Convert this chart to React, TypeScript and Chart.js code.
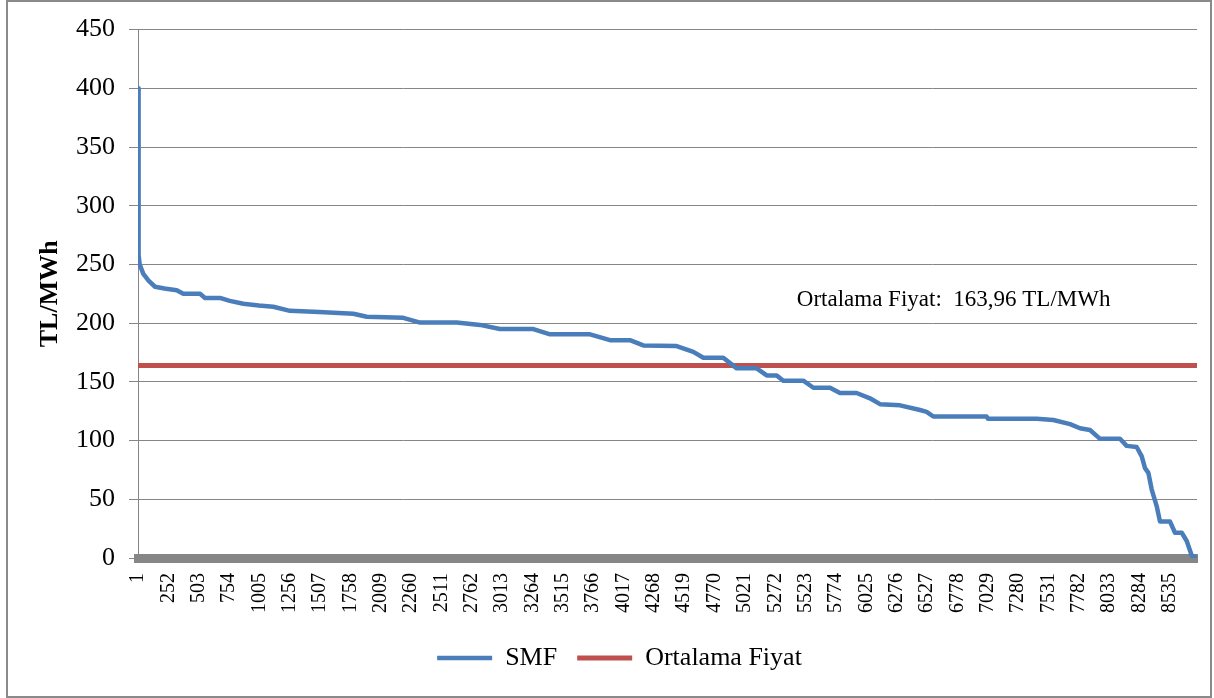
import React, { useEffect, useRef } from 'react';
import { Chart, registerables } from 'chart.js';

Chart.register(...registerables);

// ---- data ----
const HOURS = [
  1, 6, 15, 45, 90, 142, 220, 321, 376, 514, 555, 679, 760, 872, 1000, 1120, 1258, 1500, 1782, 1893,
  2195, 2334, 2637, 2830, 2995, 3271, 3409, 3740, 3905, 4070, 4180, 4456, 4594, 4677, 4842, 4953,
  5118, 5201, 5284, 5338, 5504, 5587, 5725, 5807, 5945, 6055, 6138, 6304, 6469, 6524, 6579, 7020,
  7031, 7434, 7572, 7710, 7792, 7875, 7958, 8123, 8178, 8261, 8303, 8330, 8358, 8385, 8427, 8454,
  8537, 8578, 8634, 8675, 8717, 8760,
];
const SMF_PRICES = [
  400, 258, 250, 242, 236, 231, 229.5, 228, 225, 225, 221.5, 221.5, 219, 216.5, 215, 214, 210.5, 209.5, 208, 205.5,
  204.5, 200.5, 200.5, 198.5, 195, 195, 190.5, 190.5, 185.5, 185.5, 181, 180.5, 175.5, 170.5, 170.5, 161.5,
  161.5, 155.5, 155.5, 151, 151, 145, 145, 140.5, 140.5, 136, 131, 130, 126, 124.5, 120.5, 120.5,
  118.5, 118.5, 117.5, 114, 110.5, 109, 101.5, 101.5, 95.5, 94.5, 86.5, 76.5, 72.5, 58.5, 44, 31,
  31, 21.5, 21.5, 14.5, 2, 0,
];
const AVERAGE_PRICE = 163.96;
const SERIES_NAMES = ['SMF', 'Ortalama Fiyat'];
const X_TICK_VALUES = [
  1, 252, 503, 754, 1005, 1256, 1507, 1758, 2009, 2260, 2511, 2762, 3013, 3264, 3515, 3766, 4017,
  4268, 4519, 4770, 5021, 5272, 5523, 5774, 6025, 6276, 6527, 6778, 7029, 7280, 7531, 7782, 8033,
  8284, 8535,
];
const Y_MIN = 0;
const Y_MAX = 450;
const Y_STEP = 50;
const Y_TITLE = 'TL/MWh';
const NOTE_TEXT = 'Ortalama Fiyat:  163,96 TL/MWh';
const NOTE_HOUR = 5450;
const NOTE_PRICE = 215;

const FONT = '"Liberation Serif", "Times New Roman", serif';
const BLUE = '#4A7EBB';
const RED = '#C0504D';
const GRID = '#868686';

const notePlugin = {
  id: 'noteText',
  afterDatasetsDraw(chart: any) {
    const { ctx, scales } = chart;
    const x = scales.x.getPixelForValue(NOTE_HOUR);
    const y = scales.y.getPixelForValue(NOTE_PRICE);
    ctx.save();
    ctx.font = `23px ${FONT}`;
    ctx.fillStyle = '#000';
    ctx.textAlign = 'left';
    ctx.textBaseline = 'alphabetic';
    ctx.fillText(NOTE_TEXT, x, y);
    ctx.restore();
  },
};

export default function App() {
  const canvasRef = useRef<HTMLCanvasElement | null>(null);

  useEffect(() => {
    const canvas = canvasRef.current;
    if (!canvas) return;
    const lastHour = HOURS[HOURS.length - 1];
    const chart = new Chart(canvas, {
      type: 'line',
      data: {
        datasets: [
          {
            label: SERIES_NAMES[0],
            data: HOURS.map((h, i) => ({ x: h, y: SMF_PRICES[i] })),
            borderColor: BLUE,
            backgroundColor: BLUE,
            borderWidth: 4.5,
            borderCapStyle: 'round',
            borderJoinStyle: 'round',
            pointRadius: 0,
            tension: 0,
          },
          {
            label: SERIES_NAMES[1],
            data: [
              { x: HOURS[0], y: AVERAGE_PRICE },
              { x: lastHour, y: AVERAGE_PRICE },
            ],
            borderColor: RED,
            backgroundColor: RED,
            borderWidth: 5,
            borderCapStyle: 'round',
            pointRadius: 0,
            tension: 0,
          },
        ],
      },
      options: {
        responsive: false,
        animation: false,
        events: [],
        layout: { padding: { left: 42, right: 17, top: 25, bottom: 17 } },
        scales: {
          x: {
            type: 'linear',
            min: HOURS[0],
            max: lastHour,
            afterBuildTicks: (scale: any) => {
              scale.ticks = X_TICK_VALUES.map((v) => ({ value: v }));
            },
            afterFit: (scale: any) => {
              scale.height = 67;
            },
            grid: { display: false, drawTicks: false, tickLength: 0 },
            border: { display: true, color: GRID, width: 9 },
            ticks: {
              autoSkip: false,
              minRotation: 90,
              maxRotation: 90,
              padding: 15,
              color: '#000',
              font: { family: FONT, size: 20 },
              callback: (v: any) => String(v),
            },
          },
          y: {
            type: 'linear',
            min: Y_MIN,
            max: Y_MAX,
            afterFit: (scale: any) => {
              scale.width = 96;
            },
            grid: { color: GRID, lineWidth: 1, drawTicks: true, tickLength: 9 },
            border: { display: true, color: GRID, width: 1 },
            ticks: {
              stepSize: Y_STEP,
              padding: 14,
              color: '#000',
              font: { family: FONT, size: 26 },
            },
            title: {
              display: true,
              text: Y_TITLE,
              color: '#000',
              font: { family: FONT, size: 26, weight: 'bold' },
              padding: { top: -7.6, bottom: 0 },
            },
          },
        },
        plugins: {
          legend: {
            display: true,
            position: 'bottom',
            labels: {
              usePointStyle: true,
              pointStyle: 'line',
              pointStyleWidth: 55,
              padding: 20,
              color: '#000',
              font: { family: FONT, size: 26 },
            },
          },
          tooltip: { enabled: false },
        },
      },
      plugins: [notePlugin],
    } as any);
    return () => chart.destroy();
  }, []);

  return (
    <div style={{ position: 'absolute', left: 0, top: 0, width: 1214, height: 698, background: '#fff' }}>
      <canvas ref={canvasRef} width={1214} height={698} style={{ display: 'block' }} />
      <div
        style={{
          position: 'absolute',
          left: 6,
          top: 0,
          width: 1206,
          height: 698,
          border: '2px solid #8a8a8a',
          boxSizing: 'border-box',
          pointerEvents: 'none',
        }}
      />
    </div>
  );
}
